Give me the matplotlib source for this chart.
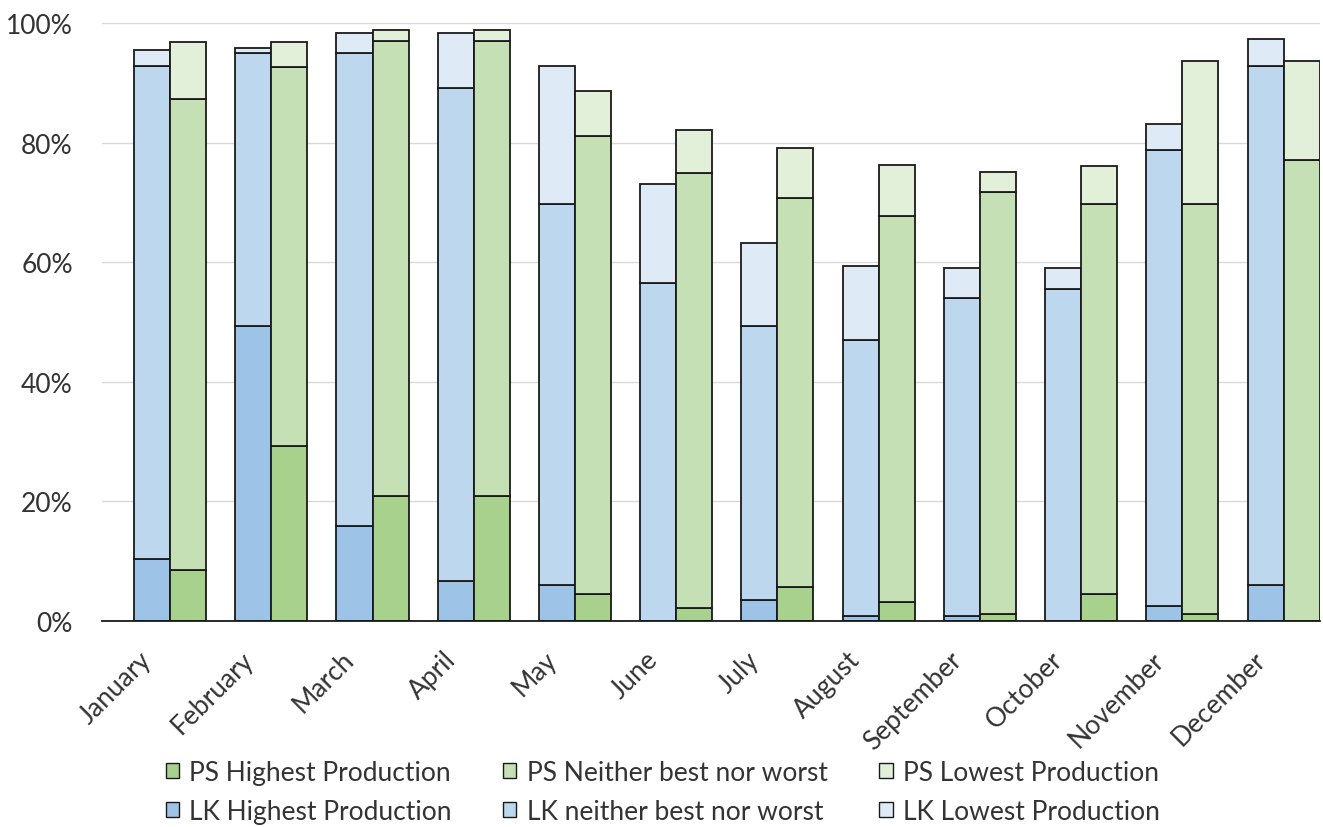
import matplotlib
matplotlib.use("Agg")
import matplotlib.pyplot as plt
import numpy as np
from matplotlib.patches import Patch
from matplotlib.ticker import PercentFormatter

months = ["January", "February", "March", "April", "May", "June", "July",
          "August", "September", "October", "November", "December"]

# Share of years (%) in each production class, per month
lk_highest = [10.3, 49.3, 15.9, 6.7, 5.9, 0.0, 3.5, 0.8, 0.8, 0.0, 2.5, 5.9]
lk_neither = [82.6, 45.8, 79.1, 82.5, 63.9, 56.6, 45.9, 46.2, 53.2, 55.6, 76.3, 87.0]
lk_lowest = [2.7, 0.8, 3.3, 9.1, 23.1, 16.5, 13.9, 12.3, 5.0, 3.4, 4.3, 4.4]

ps_highest = [8.5, 29.3, 20.9, 20.9, 4.5, 2.1, 5.6, 3.2, 1.1, 4.5, 1.1, 0.0]
ps_neither = [78.8, 63.3, 76.1, 76.1, 76.7, 72.8, 65.2, 64.5, 70.7, 65.3, 68.7, 77.1]
ps_lowest = [9.6, 4.3, 1.9, 1.9, 7.4, 7.2, 8.3, 8.5, 3.3, 6.3, 23.8, 16.5]

FONT = ["Lato", "DejaVu Sans"]
plt.rcParams["font.family"] = FONT
FS = 19

blue = ["#9dc3e6", "#bdd7ee", "#deebf7"]
green = ["#a9d18e", "#c5e0b4", "#e2f0d9"]

fig = plt.figure(figsize=(13.23, 8.28), dpi=100)
ax = fig.add_axes([0.0771, 0.2492, 0.9207, 0.7215])

x = np.arange(len(months))
w = 0.356
edge = dict(edgecolor="#1a1a1a", linewidth=1.3)

def stack(xpos, series, colors):
    bottom = np.zeros(len(months))
    for vals, col in zip(series, colors):
        v = np.array(vals) / 100.0
        ax.bar(xpos, v, w, bottom=bottom, color=col, zorder=3, **edge)
        bottom += v

stack(x - w / 2, [lk_highest, lk_neither, lk_lowest], blue)
stack(x + w / 2, [ps_highest, ps_neither, ps_lowest], green)

ax.set_ylim(0, 1.0)
ax.set_xlim(-0.672, 11.36)
ax.set_yticks(np.arange(0, 1.01, 0.2))
ax.yaxis.set_major_formatter(PercentFormatter(1.0, decimals=0))
ax.grid(axis="y", color="#d9d9d9", linewidth=1.0, zorder=0)
for s in ["left", "right", "top"]:
    ax.spines[s].set_visible(False)
ax.spines["bottom"].set_color("#1a1a1a")
ax.spines["bottom"].set_linewidth(1.3)
ax.spines["bottom"].set_zorder(4)
ax.tick_params(axis="y", length=0, pad=21, labelsize=FS, labelcolor="#333333")
ax.tick_params(axis="x", length=0)

ax.set_xticks(x)
ax.set_xticklabels([])
for xi, m in zip(x, months):
    ax.annotate(m, xy=(xi, 0), xycoords=("data", "axes fraction"),
                xytext=(-31, -26), textcoords="offset pixels",
                rotation=45, ha="right", va="top", rotation_mode="anchor",
                fontsize=FS, color="#333333")

labels = ["PS Highest Production", "LK Highest Production",
          "PS Neither best nor worst", "LK neither best nor worst",
          "PS Lowest Production", "LK Lowest Production"]
cols = [green[0], blue[0], green[1], blue[1], green[2], blue[2]]
handles = [Patch(facecolor=c, edgecolor="#1a1a1a", linewidth=1.0) for c in cols]
fig.legend(handles, labels, ncol=3, loc="center", bbox_to_anchor=(0.501, 0.0423),
           frameon=False, fontsize=FS, handlelength=0.5, handleheight=0.5,
           handletextpad=0.4, columnspacing=1.95, labelspacing=0.55,
           labelcolor="#333333")

fig.savefig("out.png", dpi=100, facecolor="white")
